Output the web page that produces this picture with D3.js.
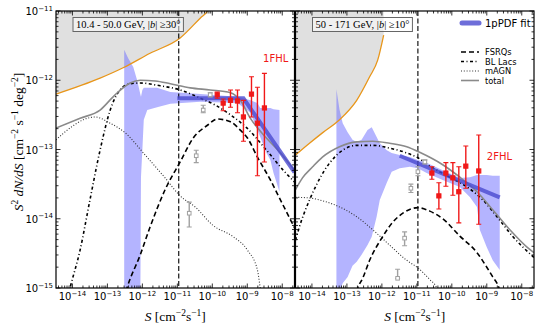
<!DOCTYPE html>
<html>
<head>
<meta charset="utf-8">
<script src="https://cdn.jsdelivr.net/npm/d3@7"></script>
<style>
  body { margin: 0; background: #fff; }
  svg { display: block; }
</style>
</head>
<body>
<div id="chart"></div>
<script>
// values are stored as log10 exponents: [log10 S, log10 S^2 dN/dS]

// ---- left panel, 10.4 - 50.0 GeV, |b| >= 30 ----
const leftTotal = [[-14.47,-12.69],[-13.78,-12.55],[-13.21,-12.43],[-12.78,-12.21],[-12.35,-12.04],[-12.06,-12.00],[-11.63,-12.01],[-11.20,-12.05],[-10.63,-12.11],[-10.06,-12.14],[-9.48,-12.18],[-9.20,-12.29],[-8.91,-12.55],[-8.48,-12.82],[-8.05,-13.05],[-7.65,-13.30]];
const leftBLLac = [[-14.12,-15.1],[-14.07,-15.0],[-13.78,-14.45],[-13.50,-13.73],[-13.21,-13.01],[-12.92,-12.43],[-12.64,-12.14],[-12.35,-12.05],[-12.06,-12.04],[-11.49,-12.08],[-10.92,-12.14],[-10.34,-12.26],[-9.91,-12.36],[-9.48,-12.50],[-9.03,-12.68],[-8.45,-13.01],[-7.97,-13.30],[-7.65,-13.47]];
const leftFSRQ = [[-12.47,-15.05],[-12.44,-15.0],[-12.06,-14.52],[-11.78,-14.12],[-11.35,-13.58],[-10.92,-13.18],[-10.54,-12.83],[-10.14,-12.65],[-9.86,-12.56],[-9.48,-12.60],[-9.20,-12.72],[-9.00,-12.83],[-8.71,-13.11],[-8.34,-13.44],[-8.05,-13.73],[-7.65,-14.13]];
const leftMAGN = [[-14.47,-12.86],[-14.07,-12.69],[-13.64,-12.56],[-13.35,-12.53],[-12.92,-12.62],[-12.49,-12.76],[-11.92,-13.08],[-11.35,-13.41],[-10.92,-13.67],[-10.49,-13.83],[-9.97,-14.10],[-9.40,-14.26],[-9.00,-14.45],[-8.71,-14.74],[-8.63,-15.0],[-8.60,-15.1]];
// [log S, lower, upper]
const leftBand = [[-12.52,-15.3,-11.56],[-12.41,-15.3,-11.68],[-12.26,-15.3,-11.81],[-12.15,-15.3,-12.00],[-12.06,-15.3,-12.20],[-12.04,-13.40,-12.24],[-12.00,-13.00,-12.14],[-11.96,-12.57,-12.11],[-11.86,-12.43,-12.11],[-11.58,-12.39,-12.11],[-11.20,-12.34,-12.17],[-10.34,-12.31,-12.20],[-9.28,-12.33,-12.24],[-8.91,-12.47,-12.29],[-8.71,-12.72,-12.33],[-8.63,-12.82,-12.40],[-8.45,-13.05,-12.40],[-8.34,-13.15,-12.40],[-8.25,-13.34,-12.42],[-8.08,-13.61,-12.43]];
const leftFit = [[-11.0,-12.26],[-9.11,-12.26],[-7.65,-13.33]];
// [log S, value, lower, upper]
const left1FHL = [[-9.86,-12.21,-12.26,-12.17],[-9.69,-12.33,-12.44,-12.27],[-9.48,-12.29,-12.39,-12.14],[-9.28,-12.30,-12.47,-12.14],[-9.11,-12.53,-12.88,-12.29],[-8.88,-12.20,-12.53,-11.95],[-8.71,-12.62,-13.38,-12.10],[-8.51,-12.40,-13.18,-11.90]];
const leftOpen = [[-10.06,-12.21,-12.24,-12.18],[-10.26,-12.43,-12.47,-12.36],[-10.46,-13.09,-13.19,-13.01],[-10.66,-13.92,-14.12,-13.76]];
const leftSens = [[-14.47,-12.20],[-13.21,-11.97],[-12.55,-11.82],[-11.78,-11.61],[-10.92,-11.39],[-10.34,-11.10],[-10.14,-11.0],[-10.06,-10.91]];

// ---- right panel, 50 - 171 GeV, |b| >= 10 ----
const rightTotal = [[-14.47,-13.58],[-14.27,-13.41],[-13.98,-13.25],[-13.70,-13.11],[-13.21,-12.96],[-12.72,-12.89],[-12.26,-12.88],[-11.78,-12.91],[-11.29,-12.96],[-10.92,-13.04],[-10.26,-13.22],[-9.77,-13.40],[-9.28,-13.61],[-8.83,-13.87],[-8.34,-14.16],[-7.85,-14.41],[-7.65,-14.49]];
const rightBLLac = [[-14.47,-14.31],[-14.36,-14.12],[-14.07,-13.73],[-13.87,-13.51],[-13.64,-13.30],[-13.35,-13.11],[-13.12,-13.01],[-12.72,-12.94],[-12.26,-12.94],[-11.78,-12.98],[-11.29,-13.05],[-10.97,-13.12],[-10.63,-13.24],[-10.06,-13.40],[-9.48,-13.57],[-9.11,-13.73],[-8.71,-13.97],[-8.25,-14.26],[-7.65,-14.56]];
const rightFSRQ = [[-12.72,-15.05],[-12.69,-15.0],[-12.55,-14.86],[-12.35,-14.60],[-11.98,-14.26],[-11.69,-14.05],[-11.40,-13.92],[-10.97,-13.84],[-10.63,-13.89],[-10.26,-14.00],[-9.77,-14.25],[-9.28,-14.49],[-9.00,-14.70],[-8.83,-14.84],[-8.65,-15.0],[-8.62,-15.05]];
const rightMAGN = [[-14.47,-13.69],[-14.07,-13.70],[-13.70,-13.74],[-13.21,-13.83],[-12.72,-13.97],[-12.26,-14.16],[-11.78,-14.38],[-11.29,-14.60],[-10.97,-14.71],[-10.63,-14.88],[-10.43,-15.0],[-10.40,-15.05]];
const rightBand = [[-13.30,-15.3,-12.13],[-13.21,-15.05,-12.43],[-13.12,-14.93,-12.62],[-12.98,-14.84,-12.75],[-12.84,-14.68,-12.86],[-12.72,-14.62,-12.89],[-12.58,-14.52,-12.86],[-12.41,-14.38,-12.72],[-12.29,-14.26,-12.68],[-12.15,-13.97,-12.82],[-12.06,-13.73,-12.91],[-11.86,-13.48,-13.01],[-11.72,-13.32,-13.05],[-11.49,-13.27,-13.08],[-11.20,-13.25,-13.11],[-10.97,-13.27,-13.15],[-10.72,-13.34,-13.19],[-10.26,-13.44,-13.30],[-9.77,-13.54,-13.41],[-9.48,-13.69,-13.40],[-9.28,-13.83,-13.37],[-9.20,-14.16,-13.37],[-9.00,-14.41,-13.37],[-8.83,-14.60,-13.38],[-8.63,-14.74,-13.38]];
const rightFit = [[-11.49,-13.09],[-8.63,-13.69]];
const right2FHL = [[-10.57,-13.34,-13.43,-13.25],[-10.37,-13.67,-13.86,-13.48],[-10.17,-13.34,-13.53,-13.19],[-9.97,-13.41,-13.66,-13.19],[-9.80,-13.61,-14.06,-13.25],[-9.60,-13.24,-13.56,-12.95],[-9.23,-13.31,-14.08,-12.79]];
const rightOpen = [[-10.77,-13.18,-13.21,-13.15],[-10.97,-13.32,-13.38,-13.25],[-11.17,-13.56,-13.62,-13.50],[-11.35,-14.28,-14.39,-14.19],[-11.55,-14.86,-14.86,-14.73]];
const rightSens = [[-14.47,-13.08],[-14.07,-12.91],[-13.70,-12.76],[-13.21,-12.57],[-12.72,-12.29],[-12.35,-11.95],[-12.12,-11.71],[-11.95,-11.35]];

const sMinLeft = -10.96, sMinRight = -10.97;
const xTicks = [-14, -13, -12, -11, -10, -9, -8];
const yTicks = [-15, -14, -13, -12, -11];
const xDomain = [-14.47, -7.65];
const yDomain = [-15, -11];

const legendItems = [
    {label: 'FSRQs', dash: '5,3', color: '#000', width: 1.6},
    {label: 'BL Lacs', dash: '3,2.5,1,2.5', color: '#000', width: 1.6},
    {label: 'mAGN', dash: '1,1.8', color: '#333', width: 1.1},
    {label: 'total', dash: null, color: '#8a8a8a', width: 1.6}
];

// ### drawing ###
const W = 540, H = 329;
const yTop = 11, yBot = 288;
const sansFont = '"DejaVu Sans", sans-serif';
const serifFont = '"Liberation Serif", "DejaVu Serif", serif';
const p10 = e => Math.pow(10, e);

const svg = d3.select('#chart').append('svg')
    .attr('width', W).attr('height', H);

const y = d3.scaleLog().domain(yDomain.map(p10)).range([yBot, yTop]);

// writes text with superscripts / italics via tspans
function rich(sel, parts, supSize, shift) {
    let raised = false;
    parts.forEach(([t, kind]) => {
        const ts = sel.append('tspan').text(t);
        if (kind === 's') {
            ts.attr('font-size', supSize);
            if (!raised) { ts.attr('dy', -shift); raised = true; }
        } else {
            if (raised) { ts.attr('dy', shift); raised = false; }
            if (kind === 'i') ts.style('font-style', 'italic');
        }
    });
}

const panels = [
    {x0: 56, x1: 294.5, total: leftTotal, bl: leftBLLac, fsrq: leftFSRQ, magn: leftMAGN,
     band: leftBand, fit: leftFit, pts: left1FHL, open: leftOpen, sens: leftSens, smin: sMinLeft,
     box: '10.4 - 50.0 GeV, ', boxAngle: '30°', catLabel: '1FHL', catPos: [-8.55, -11.73]},
    {x0: 295.5, x1: 534, total: rightTotal, bl: rightBLLac, fsrq: rightFSRQ, magn: rightMAGN,
     band: rightBand, fit: rightFit, pts: right2FHL, open: rightOpen, sens: rightSens, smin: sMinRight,
     box: '50 - 171 GeV, ', boxAngle: '10°', catLabel: '2FHL', catPos: [-9.0, -13.15]}
];

panels.forEach((p, i) => {
    const x = d3.scaleLog().domain(xDomain.map(p10)).range([p.x0, p.x1]);
    const g = svg.append('g');
    const clipId = 'clip' + i;
    svg.append('clipPath').attr('id', clipId).append('rect')
        .attr('x', p.x0).attr('y', yTop).attr('width', p.x1 - p.x0).attr('height', yBot - yTop);
    const plot = g.append('g').attr('clip-path', `url(#${clipId})`);

    const line = d3.line().x(d => x(p10(d[0]))).y(d => y(p10(d[1]))).curve(d3.curveMonotoneX);

    // excluded region above sensitivity curve
    plot.append('path')
        .datum(p.sens)
        .attr('d', d3.area().x(d => x(p10(d[0]))).y0(yTop - 5).y1(d => y(p10(d[1]))).curve(d3.curveMonotoneX))
        .attr('fill', '#e0e0e0');

    // 1pPDF uncertainty band
    plot.append('path')
        .datum(p.band)
        .attr('d', d3.area().x(d => x(p10(d[0]))).y0(d => y(p10(d[1]))).y1(d => y(p10(d[2]))))
        .attr('fill', '#6a6aff').attr('fill-opacity', 0.5);

    // sensitivity curve
    plot.append('path').datum(p.sens).attr('d', line)
        .attr('fill', 'none').attr('stroke', '#e8961a').attr('stroke-width', 1.3);

    // S_min line
    plot.append('line')
        .attr('x1', x(p10(p.smin))).attr('x2', x(p10(p.smin)))
        .attr('y1', yTop).attr('y2', yBot)
        .attr('stroke', '#000').attr('stroke-width', 1.1).attr('stroke-dasharray', '5,2.5');

    // model components
    const comps = [[p.magn, legendItems[2]], [p.bl, legendItems[1]], [p.fsrq, legendItems[0]], [p.total, legendItems[3]]];
    comps.forEach(([data, st]) => {
        plot.append('path').datum(data).attr('d', line)
            .attr('fill', 'none').attr('stroke', st.color).attr('stroke-width', st.width)
            .attr('stroke-dasharray', st.dash);
    });

    // 1pPDF best fit
    plot.append('path').datum(p.fit)
        .attr('d', d3.line().x(d => x(p10(d[0]))).y(d => y(p10(d[1]))))
        .attr('fill', 'none').attr('stroke', '#4a4ad0').attr('stroke-opacity', 0.8).attr('stroke-width', 4);

    // data points with error bars
    function errPoints(data, color, fill, sz) {
        const pg = plot.append('g').selectAll('g').data(data).enter().append('g');
        pg.append('line')
            .attr('x1', d => x(p10(d[0]))).attr('x2', d => x(p10(d[0])))
            .attr('y1', d => y(p10(d[2]))).attr('y2', d => y(p10(d[3])))
            .attr('stroke', color).attr('stroke-width', 1.4);
        [2, 3].forEach(k => {
            pg.append('line')
                .attr('x1', d => x(p10(d[0])) - 2.5).attr('x2', d => x(p10(d[0])) + 2.5)
                .attr('y1', d => y(p10(d[k]))).attr('y2', d => y(p10(d[k])))
                .attr('stroke', color).attr('stroke-width', 1.1);
        });
        pg.append('rect')
            .attr('x', d => x(p10(d[0])) - sz / 2).attr('y', d => y(p10(d[1])) - sz / 2)
            .attr('width', sz).attr('height', sz)
            .attr('fill', fill).attr('stroke', color).attr('stroke-width', 1);
    }
    errPoints(p.open, '#a0a0a0', '#fff', 3.6);
    errPoints(p.pts, '#f01818', '#f01818', 4.2);

    // catalogue label
    g.append('text')
        .attr('x', x(p10(p.catPos[0]))).attr('y', y(p10(p.catPos[1])))
        .attr('font-family', sansFont).attr('font-size', 10).attr('fill', '#f01818')
        .text(p.catLabel);

    // energy band box
    const boxRect = g.append('rect');
    const bt = g.append('text')
        .attr('x', p.x0 + 20).attr('y', 28)
        .attr('font-family', serifFont).attr('font-size', 10.5).attr('fill', '#000');
    rich(bt, [[p.box, 'n'], ['|', 'n'], ['b', 'i'], ['|', 'n'], [' ≥', 'n'], [p.boxAngle, 'n']], 10.5, 0);
    const bb = bt.node().getBBox();
    boxRect
        .attr('x', bb.x - 3).attr('y', 17.5).attr('width', bb.width + 6).attr('height', 14)
        .attr('fill', '#fff').attr('fill-opacity', 0.5)
        .attr('stroke', '#666').attr('stroke-width', 1);

    // frame
    g.append('rect')
        .attr('x', p.x0).attr('y', yTop).attr('width', p.x1 - p.x0).attr('height', yBot - yTop)
        .attr('fill', 'none').attr('stroke', '#000').attr('stroke-width', 1.2);

    // ticks on all four sides, pointing inward
    const ticks = g.append('g').attr('stroke', '#000').attr('stroke-width', 0.8);
    for (let e = -15; e <= -8; e++) {
        for (let k = 1; k <= 9; k++) {
            const v = k * p10(e);
            const len = k === 1 ? 4.5 : 2.5;
            if (v >= p10(xDomain[0]) && v <= p10(xDomain[1])) {
                const xx = x(v);
                ticks.append('line').attr('x1', xx).attr('x2', xx).attr('y1', yBot).attr('y2', yBot - len);
                ticks.append('line').attr('x1', xx).attr('x2', xx).attr('y1', yTop).attr('y2', yTop + len);
            }
            if ((e < -11 && v >= p10(yDomain[0]) && v <= p10(yDomain[1])) || (e === -11 && k === 1)) {
                const yy = y(v);
                ticks.append('line').attr('x1', p.x0).attr('x2', p.x0 + len).attr('y1', yy).attr('y2', yy);
                ticks.append('line').attr('x1', p.x1).attr('x2', p.x1 - len).attr('y1', yy).attr('y2', yy);
            }
        }
    }

    // x tick labels
    xTicks.forEach(e => {
        const t = g.append('text')
            .attr('x', x(p10(e))).attr('y', 300)
            .attr('text-anchor', 'middle')
            .attr('font-family', sansFont).attr('font-size', 10);
        rich(t, [['10', 'n'], ['\u2212' + (-e), 's']], 7, 4.5);
    });

    // x axis title
    const xt = g.append('text')
        .attr('x', (p.x0 + p.x1) / 2).attr('y', 321)
        .attr('text-anchor', 'middle')
        .attr('font-family', serifFont).attr('font-size', 13.5);
    rich(xt, [['S', 'i'], [' [cm', 'n'], ['\u22122', 's'], ['s', 'n'], ['\u22121', 's'], [']', 'n']], 9.5, 5);

    if (i === 0) {
        yTicks.forEach(e => {
            const t = g.append('text')
                .attr('x', 53).attr('y', y(p10(e)) + 4)
                .attr('text-anchor', 'end')
                .attr('font-family', sansFont).attr('font-size', 10);
            rich(t, [['10', 'n'], ['\u2212' + (-e), 's']], 7, 4.5);
        });
        const yt = g.append('text')
            .attr('transform', 'translate(23,142) rotate(-90)')
            .attr('text-anchor', 'middle')
            .attr('font-family', serifFont).attr('font-size', 13.5);
        rich(yt, [['S', 'i'], ['2', 's'], [' dN/dS', 'i'], [' [cm', 'n'], ['\u22122', 's'], [' s', 'n'], ['\u22121', 's'], [' deg', 'n'], ['\u22122', 's'], [']', 'n']], 9.5, 5);
    }

    if (i === 1) {
        // legend
        const lg = g.append('g');
        lg.append('line').attr('x1', 462).attr('x2', 479).attr('y1', 23).attr('y2', 23)
            .attr('stroke', '#4a4ad0').attr('stroke-opacity', 0.8).attr('stroke-width', 5).attr('stroke-linecap', 'round');
        lg.append('text').attr('x', 485).attr('y', 26.5)
            .attr('font-family', sansFont).attr('font-size', 10).text('1pPDF fit');
        legendItems.forEach((it, j) => {
            const yy = 52 + j * 9.5;
            lg.append('line').attr('x1', 461).attr('x2', 479).attr('y1', yy).attr('y2', yy)
                .attr('stroke', it.color).attr('stroke-width', it.width).attr('stroke-dasharray', it.dash);
            lg.append('text').attr('x', 485).attr('y', yy + 3)
                .attr('font-family', sansFont).attr('font-size', 8.3).text(it.label);
        });
    }
});
</script>
</body>
</html>
